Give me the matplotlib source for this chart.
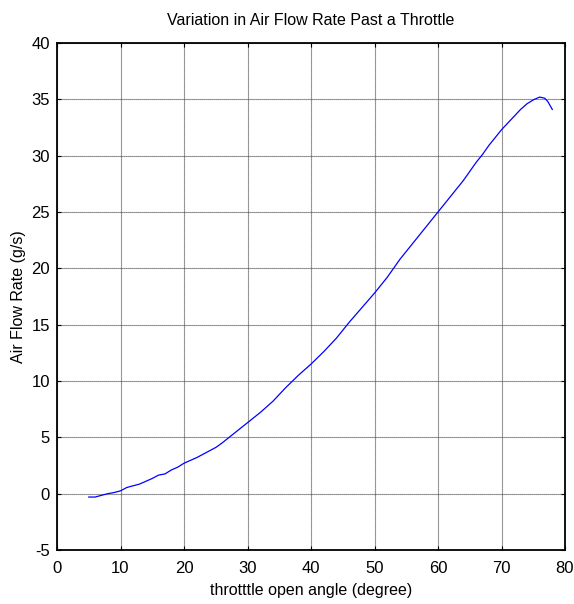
import matplotlib
matplotlib.use('Agg')
import matplotlib.pyplot as plt

# 曲线数据
angle = [5, 6, 7, 8, 9, 10, 11, 12, 13, 14, 15, 16, 17, 18, 19, 20,
         22, 24, 25, 26, 28, 30, 32, 34, 35, 36, 38, 40, 42, 44, 45, 46,
         48, 50, 52, 53, 54, 56, 58, 60, 62, 64, 65, 66, 67, 68, 70, 72,
         73, 74, 75, 76, 76.8, 77.3, 78]
flow = [-0.3, -0.3, -0.15, 0.0, 0.1, 0.25, 0.55, 0.7, 0.85, 1.1, 1.35, 1.65, 1.75, 2.1, 2.35, 2.7,
        3.2, 3.8, 4.1, 4.5, 5.4, 6.3, 7.2, 8.2, 8.8, 9.4, 10.5, 11.5, 12.6, 13.8, 14.5, 15.2,
        16.5, 17.8, 19.2, 20.0, 20.8, 22.2, 23.6, 25.0, 26.4, 27.8, 28.6, 29.4, 30.1, 30.9, 32.3, 33.5,
        34.1, 34.6, 34.95, 35.2, 35.1, 34.8, 34.1]

xticks = [0, 10, 20, 30, 40, 50, 60, 70, 80]
yticks = [-5, 0, 5, 10, 15, 20, 25, 30, 35, 40]

plt.rcParams['font.family'] = ['Liberation Sans', 'DejaVu Sans']
plt.rcParams['axes.unicode_minus'] = False

fig = plt.figure(figsize=(5.74, 6.04), dpi=100)
ax = fig.add_axes([57/574, 54/604, 508/574, 507/604])

ax.plot(angle, flow, color='blue', lw=0.9)

ax.set_xlim(0, 80)
ax.set_ylim(-5, 40)
ax.set_xticks(xticks)
ax.set_yticks(yticks)
ax.grid(True, color='#444444', linestyle=(0, (1, 0.8)), lw=0.8)

for s in ax.spines.values():
    s.set_linewidth(1.3)

ax.tick_params(axis='both', direction='in', length=3, width=0.8,
               top=True, right=True, labelsize=12)
ax.tick_params(axis='x', pad=8)
ax.tick_params(axis='y', pad=5)

ax.set_title('Variation in Air Flow Rate Past a Throttle', fontsize=11.5, pad=13)
ax.set_xlabel('throtttle open angle (degree)', fontsize=11.5, labelpad=5)
ax.set_ylabel('Air Flow Rate (g/s)', fontsize=11.5, labelpad=4)

fig.savefig('out.png', dpi=100)
